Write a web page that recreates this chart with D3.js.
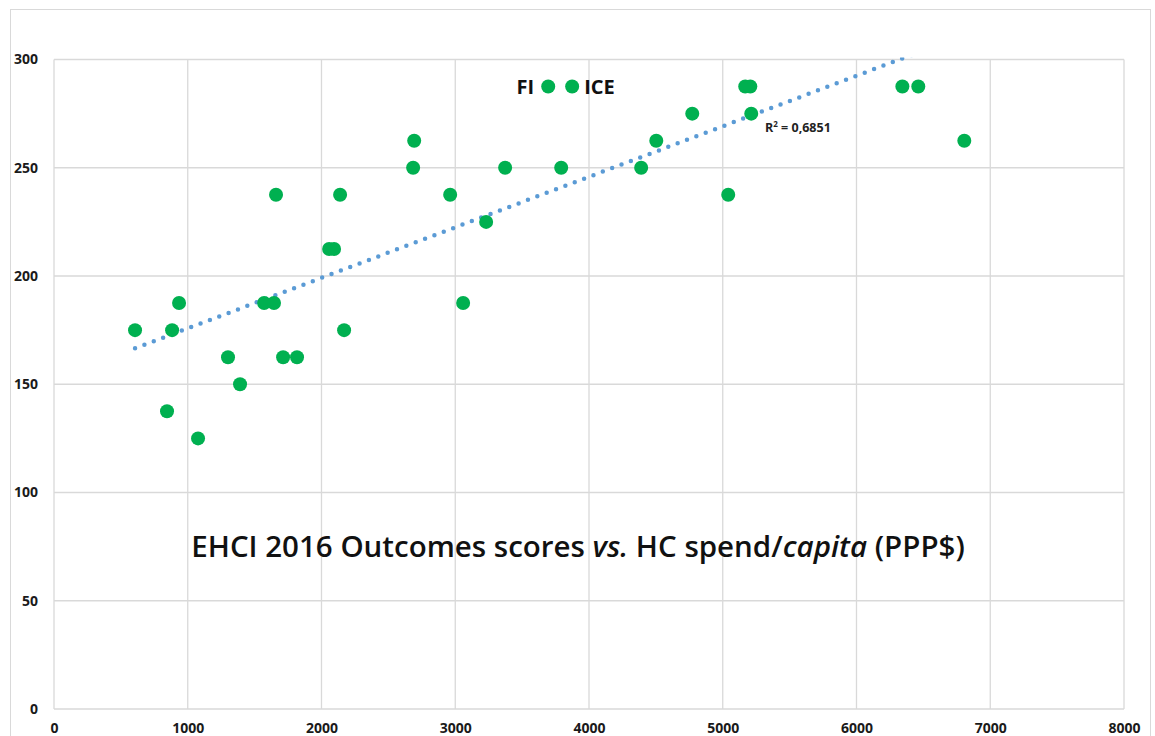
<!DOCTYPE html>
<html>
<head>
<meta charset="utf-8">
<script src="https://cdn.jsdelivr.net/npm/d3@7"></script>
<style>
  body { margin: 0; background: #fff; }
  svg { display: block; }
</style>
</head>
<body>
<div id="chart"></div>
<script>
// HC spend per capita (PPP$) and EHCI 2016 outcomes score per country
const spend = [606, 845, 883, 935, 1077, 1301, 1391, 1571, 1645, 1660, 1713, 1817,
  2057, 2094, 2139, 2169, 2685, 2693, 2962, 3059, 3231, 3373, 3695, 3792, 3874,
  4390, 4503, 4772, 5041, 5168, 5206, 5213, 6343, 6462, 6806];
const score = [175, 137.5, 175, 187.5, 125, 162.5, 150, 187.5, 187.5, 237.5, 162.5, 162.5,
  212.5, 212.5, 237.5, 175, 250, 262.5, 237.5, 187.5, 225, 250, 287.5, 250, 287.5,
  250, 262.5, 275, 237.5, 287.5, 287.5, 275, 287.5, 287.5, 262.5];

const pointLabels = ["FI", "ICE"];
const labelIndex = [22, 24];
const r2Text = "0,6851";

const xTicks = [0, 1000, 2000, 3000, 4000, 5000, 6000, 7000, 8000];
const yTicks = [0, 50, 100, 150, 200, 250, 300];

const width = 1155, height = 736;
const margin = { left: 54, top: 59.5, right: 1155 - 1124, bottom: 736 - 709 };

const svg = d3.select("#chart").append("svg")
  .attr("width", width)
  .attr("height", height);

// outer chart border
svg.append("rect")
  .attr("x", 10.5).attr("y", 9.5)
  .attr("width", 1140).attr("height", 740)
  .attr("fill", "none")
  .attr("stroke", "#d9d9d9");

const x = d3.scaleLinear().domain([0, 8000]).range([margin.left, width - margin.right]);
const y = d3.scaleLinear().domain([0, 300]).range([height - margin.bottom, margin.top]);

// gridlines
svg.append("g")
  .selectAll("line.v")
  .data(xTicks)
  .enter().append("line")
  .attr("x1", d => x(d)).attr("x2", d => x(d))
  .attr("y1", y(0)).attr("y2", y(300))
  .attr("stroke", "#d9d9d9").attr("stroke-width", 1.3);

svg.append("g")
  .selectAll("line.h")
  .data(yTicks)
  .enter().append("line")
  .attr("x1", x(0)).attr("x2", x(8000))
  .attr("y1", d => y(d)).attr("y2", d => y(d))
  .attr("stroke", "#d9d9d9").attr("stroke-width", 1.3);

// axes (labels only)
const xAxis = d3.axisBottom(x).tickValues(xTicks).tickFormat(d3.format("d"))
  .tickSize(0).tickPadding(14);
svg.append("g")
  .attr("transform", `translate(0, ${y(0)})`)
  .call(xAxis)
  .call(g => g.select(".domain").remove())
  .selectAll("text")
  .attr("font-family", "'Open Sans', sans-serif")
  .attr("font-weight", "bold")
  .attr("font-size", "14px")
  .attr("fill", "#1a1a1a");

const yAxis = d3.axisLeft(y).tickValues(yTicks).tickFormat(d3.format("d"))
  .tickSize(0).tickPadding(16);
svg.append("g")
  .attr("transform", `translate(${x(0)}, 0)`)
  .call(yAxis)
  .call(g => g.select(".domain").remove())
  .selectAll("text")
  .attr("font-family", "'Open Sans', sans-serif")
  .attr("font-weight", "bold")
  .attr("font-size", "14px")
  .attr("fill", "#1a1a1a");

// linear trendline (least squares), clipped to plot area
const n = spend.length;
const mx = d3.mean(spend), my = d3.mean(score);
let sxy = 0, sxx = 0;
for (let i = 0; i < n; i++) {
  sxy += (spend[i] - mx) * (score[i] - my);
  sxx += (spend[i] - mx) * (spend[i] - mx);
}
const slope = sxy / sxx;
const intercept = my - slope * mx;

svg.append("clipPath").attr("id", "plotclip")
  .append("rect")
  .attr("x", x(0)).attr("y", y(300) - 2)
  .attr("width", x(8000) - x(0)).attr("height", y(0) - y(300) + 2);

const x0 = d3.min(spend), x1 = d3.max(spend);
svg.append("line")
  .attr("clip-path", "url(#plotclip)")
  .attr("x1", x(x0)).attr("y1", y(intercept + slope * x0))
  .attr("x2", x(x1)).attr("y2", y(intercept + slope * x1))
  .attr("stroke", "#5b9bd5")
  .attr("stroke-width", 4.5)
  .attr("stroke-linecap", "round")
  .attr("stroke-dasharray", "0 10");

// points
svg.append("g")
  .selectAll("circle")
  .data(spend.map((d, i) => [d, score[i]]))
  .enter().append("circle")
  .attr("cx", d => x(d[0]))
  .attr("cy", d => y(d[1]))
  .attr("r", 7)
  .attr("fill", "#00b050");

// country labels
svg.append("text")
  .attr("x", x(spend[labelIndex[0]]) - 14)
  .attr("y", y(score[labelIndex[0]]) + 7)
  .attr("text-anchor", "end")
  .attr("font-family", "'Open Sans', sans-serif")
  .attr("font-weight", "bold")
  .attr("font-size", "20px")
  .attr("fill", "#111")
  .text(pointLabels[0]);

svg.append("text")
  .attr("x", x(spend[labelIndex[1]]) + 12)
  .attr("y", y(score[labelIndex[1]]) + 7)
  .attr("font-family", "'Open Sans', sans-serif")
  .attr("font-weight", "bold")
  .attr("font-size", "20px")
  .attr("fill", "#111")
  .text(pointLabels[1]);

// R² label
const r2 = svg.append("text")
  .attr("x", 765)
  .attr("y", 132)
  .attr("font-family", "'Open Sans', sans-serif")
  .attr("font-weight", "bold")
  .attr("font-size", "12.5px")
  .attr("fill", "#222");
r2.append("tspan").text("R");
r2.append("tspan").attr("font-size", "8px").attr("dy", -5).text("2");
r2.append("tspan").attr("dy", 5).text(" = " + r2Text);

// title
const title = svg.append("text")
  .attr("x", 578)
  .attr("y", 557)
  .attr("text-anchor", "middle")
  .attr("font-family", "'Open Sans', sans-serif")
  .attr("font-weight", 600)
  .attr("font-size", "27px")
  .attr("fill", "#111");
title.append("tspan").text("EHCI 2016 Outcomes scores ");
title.append("tspan").attr("font-style", "italic").text("vs.");
title.append("tspan").text(" HC spend/");
title.append("tspan").attr("font-style", "italic").text("capita");
title.append("tspan").text(" (PPP$)");

// fit title to reference width
const tw = title.node().getComputedTextLength();
title.attr("font-size", (27 * 773 / tw).toFixed(1) + "px");
</script>
</body>
</html>
